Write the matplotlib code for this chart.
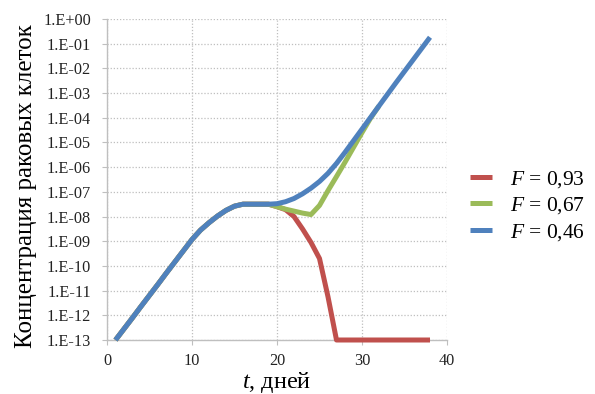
import matplotlib
matplotlib.use("Agg")
import matplotlib.pyplot as plt
import numpy as np

plt.rcParams['font.family'] = ['Liberation Serif', 'DejaVu Serif']
plt.rcParams['mathtext.fontset'] = 'custom'
plt.rcParams['mathtext.rm'] = 'Liberation Serif'
plt.rcParams['mathtext.it'] = 'Liberation Serif:italic'

# time, days
t_blue = list(range(1, 39))
log_blue = [-13.0, -12.55, -12.1, -11.64, -11.19, -10.74, -10.28, -9.83, -9.38, -8.93,
            -8.55, -8.25, -7.98, -7.75, -7.58, -7.5, -7.5, -7.5, -7.5, -7.48,
            -7.4, -7.27, -7.08, -6.85, -6.58, -6.25, -5.85, -5.4, -4.93, -4.46,
            -3.99, -3.52, -3.05, -2.58, -2.12, -1.66, -1.2, -0.74]

t_green = list(range(1, 33))
log_green = log_blue[:19] + [-7.6, -7.7, -7.78, -7.86, -7.92, -7.55, -6.95, -6.38, -5.8,
                             -5.2, -4.6, -4.02, -3.52]

t_red = list(range(1, 39))
log_red = log_blue[:19] + [-7.6, -7.72, -8.0, -8.5, -9.05, -9.7, -11.25, -13.0,
                           -13.0, -13.0, -13.0, -13.0, -13.0, -13.0, -13.0, -13.0,
                           -13.0, -13.0, -13.0]

series_labels = ['$F$ = 0,93', '$F$ = 0,67', '$F$ = 0,46']
colors = ['#C0504D', '#9BBB59', '#4F81BD']

y_exponents = list(range(0, -14, -1))
y_ticklabels = ['1.E+00'] + ['1.E-%02d' % (-e) for e in y_exponents[1:]]
x_ticks = [0, 10, 20, 30, 40]

fig = plt.figure(figsize=(5.95, 3.94), dpi=100)
ax = fig.add_axes([107/595, 1-340/394, 340/595, 321/394])

lw = 3.6
ax.plot(t_red, 10.0**np.array(log_red), color=colors[0], lw=lw, label=series_labels[0],
        clip_on=False, solid_capstyle='butt', zorder=3)
ax.plot(t_green, 10.0**np.array(log_green), color=colors[1], lw=lw, label=series_labels[1],
        clip_on=False, solid_capstyle='butt', zorder=4)
ax.plot(t_blue, 10.0**np.array(log_blue), color=colors[2], lw=lw, label=series_labels[2],
        clip_on=False, solid_capstyle='butt', zorder=5)

ax.set_yscale('log')
ax.set_ylim(1e-13, 1)
ax.set_xlim(0, 40)
ax.set_yticks([10.0**e for e in y_exponents])
ax.set_yticklabels(y_ticklabels)
ax.yaxis.set_minor_locator(matplotlib.ticker.NullLocator())
ax.set_xticks(x_ticks)
ax.set_xticklabels([str(v) for v in x_ticks])

ax.grid(True, which='major', color='#BFBFBF', linestyle=(0, (1, 1.5)), linewidth=0.9)
for s in ['top', 'right']:
    ax.spines[s].set_visible(False)
for s in ['left', 'bottom']:
    ax.spines[s].set_color('#BFBFBF')
    ax.spines[s].set_linewidth(1.0)
ax.tick_params(axis='both', which='major', direction='out', length=3.5, width=0.8,
               color='#BFBFBF', labelsize=11.7, labelcolor='#222222')
ax.tick_params(axis='y', pad=8)
ax.tick_params(axis='x', pad=6)

ax.set_xlabel('$t$, дней', fontsize=17.5, labelpad=0)
ax.xaxis.set_label_coords(0.5, -0.093)
ax.set_ylabel('Концентрация раковых клеток', fontsize=18)
ax.yaxis.set_label_coords(-0.207, 0.48)

ax.legend(loc='center left', bbox_to_anchor=(470/595, 1-206/394),
          bbox_transform=fig.transFigure, frameon=False, fontsize=15.5,
          handlelength=1.0, handletextpad=0.85, labelspacing=0.25, borderpad=0,
          borderaxespad=0)

fig.savefig('out.png', dpi=100)
